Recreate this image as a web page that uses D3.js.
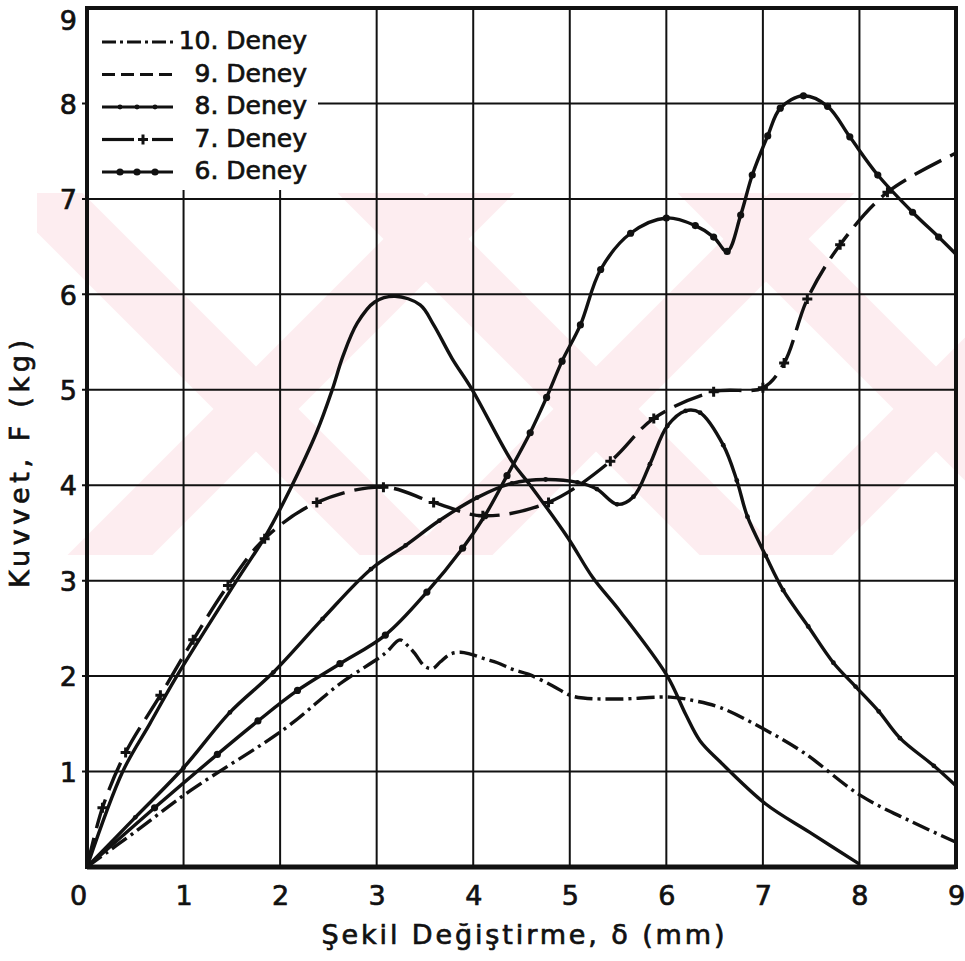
<!DOCTYPE html>
<html>
<head>
<meta charset="utf-8">
<script src="https://cdn.jsdelivr.net/npm/d3@7"></script>
<style>
body { margin: 0; background: #fff; }
text { font-family: "DejaVu Sans", sans-serif; fill: #111; stroke: #111; stroke-width: 0.7px; }
</style>
</head>
<body>
<script>
const w = 965;
const h = 961;
const plotLeft = 87, plotRight = 956, plotTop = 8, plotBottom = 867;

const xTicks = [0, 1, 2, 3, 4, 5, 6, 7, 8, 9];
const yTicks = [1, 2, 3, 4, 5, 6, 7, 8, 9];

const xTitle = "Şekil  Değiştirme, δ (mm)";
const yTitle = "Kuvvet, F (kg)";

// deformation (mm), force (kg)
const deney10 = [[0, 0], [0.5, 0.37], [1.07, 0.8], [2.05, 1.45], [2.62, 1.92], [3.09, 2.24], [3.24, 2.38],
    [3.33, 2.31], [3.4, 2.23], [3.5, 2.1], [3.58, 2.08], [3.66, 2.15], [3.76, 2.23], [3.87, 2.25],
    [3.97, 2.23], [4.12, 2.18], [4.25, 2.14], [4.41, 2.07], [4.57, 2.02], [4.82, 1.9], [5.0, 1.8],
    [5.14, 1.77], [5.52, 1.76], [6.04, 1.78], [6.3, 1.74], [6.56, 1.67], [7.0, 1.45], [7.42, 1.2],
    [8.01, 0.75], [8.53, 0.48], [9.0, 0.26]];

const deney9 = [[0, 0], [0.37, 1.0], [0.65, 1.5], [0.93, 2.0], [1.55, 3.0], [1.85, 3.47],
    [2.1, 3.95], [2.38, 4.56], [2.54, 5.0], [2.65, 5.35], [2.8, 5.7], [2.98, 5.92], [3.19, 5.98],
    [3.45, 5.89], [3.59, 5.68], [3.78, 5.33], [3.99, 5.0], [4.4, 4.25], [4.59, 4.0], [4.98, 3.45],
    [5.24, 3.03], [5.52, 2.68], [6.01, 2.0], [6.2, 1.6], [6.35, 1.32], [6.56, 1.1], [7.03, 0.66],
    [7.49, 0.36], [8.0, 0.03]];

const deney8 = [[0, 0], [0.5, 0.52], [1.0, 1.04], [1.48, 1.62], [1.93, 2.04], [2.44, 2.6], [2.94, 3.12],
    [3.3, 3.37], [3.65, 3.63], [4.04, 3.87], [4.4, 4.02], [4.75, 4.06], [5.08, 4.03], [5.28, 3.96],
    [5.49, 3.8], [5.66, 3.88], [5.83, 4.22], [6.01, 4.62], [6.2, 4.78], [6.35, 4.76], [6.59, 4.42],
    [6.73, 4.05], [6.84, 3.67], [7.03, 3.26], [7.21, 2.9], [7.47, 2.52], [7.73, 2.14], [7.96, 1.89],
    [8.2, 1.63], [8.42, 1.35], [8.77, 1.06], [9.0, 0.85]];

const deney7 = [[0, 0], [0.16, 0.62], [0.4, 1.2], [0.76, 1.8], [1.1, 2.38], [1.46, 2.95], [1.84, 3.44],
    [2.38, 3.82], [3.07, 3.98], [3.59, 3.82], [4.1, 3.68], [4.78, 3.82], [5.42, 4.25], [5.87, 4.7],
    [6.49, 4.98], [7.0, 5.02], [7.22, 5.28], [7.46, 5.95], [7.8, 6.52], [8.29, 7.07], [9.0, 7.48]];

const deney6 = [[0, 0], [0.7, 0.62], [1.35, 1.18], [1.77, 1.53], [2.18, 1.85], [2.62, 2.13], [3.09, 2.43],
    [3.52, 2.88], [3.89, 3.34], [4.12, 3.68], [4.35, 4.1], [4.59, 4.55], [4.76, 4.92], [4.92, 5.3],
    [5.11, 5.68], [5.32, 6.26], [5.63, 6.64], [6.0, 6.8], [6.3, 6.72], [6.49, 6.6], [6.63, 6.45],
    [6.77, 6.83], [6.89, 7.25], [7.05, 7.66], [7.18, 7.95], [7.42, 8.08], [7.67, 7.97], [7.9, 7.65],
    [8.19, 7.25], [8.55, 6.86], [8.82, 6.6], [9.0, 6.42]];

const series = [
    { name: "10. Deney", data: deney10, dash: "18,5,3,5", legendDash: "14,4,3,4", mark: null },
    { name: "9. Deney", data: deney9, dash: null, legendDash: "13,6", mark: null },
    { name: "8. Deney", data: deney8, dash: null, legendDash: null, mark: "smalldot" },
    { name: "7. Deney", data: deney7, dash: "30,10", legendDash: null, mark: "plus" },
    { name: "6. Deney", data: deney6, dash: null, legendDash: null, mark: "dot" }
];

const svg = d3.select("body").append("svg").attr("width", w).attr("height", h);

const xScale = d3.scaleLinear().domain([0, 9]).range([plotLeft, plotRight]);
const yScale = d3.scaleLinear().domain([0, 9]).range([plotBottom, plotTop]);

drawWatermark();
drawGrid();
drawLegendBox();
drawCurves();
drawFrame();
drawAxes();
drawLegend();
drawTitles();

function drawWatermark() {
    const y0 = 193, y1 = 555, band = y1 - y0;
    svg.append("clipPath").attr("id", "wm")
        .append("rect").attr("x", 37).attr("y", y0).attr("width", w - 37).attr("height", band);
    const g = svg.append("g").attr("clip-path", "url(#wm)");
    const bw = 85;
    [40, 380, 720].forEach(function (x0) {
        g.append("polygon")
            .attr("points", [[x0 - bw / 2, y0], [x0 + bw / 2, y0], [x0 + band + bw / 2, y1], [x0 + band - bw / 2, y1]].join(" "))
            .attr("fill", "#fdedf0");
    });
    [110, 450, 790].forEach(function (x0) {
        g.append("polygon")
            .attr("points", [[x0 - bw / 2, y1], [x0 + bw / 2, y1], [x0 + band + bw / 2, y0], [x0 + band - bw / 2, y0]].join(" "))
            .attr("fill", "#fdedf0");
    });
}

function drawGrid() {
    const g = svg.append("g").attr("stroke", "#111").attr("stroke-width", 2);
    xTicks.filter(function (d) { return d > 0 && d < 9; }).forEach(function (d) {
        g.append("line").attr("x1", xScale(d)).attr("x2", xScale(d))
            .attr("y1", plotTop).attr("y2", plotBottom);
    });
    yTicks.filter(function (d) { return d < 9; }).forEach(function (d) {
        g.append("line").attr("x1", plotLeft - 5).attr("x2", plotRight)
            .attr("y1", yScale(d)).attr("y2", yScale(d));
    });
}

function drawLegendBox() {
    svg.append("rect").attr("x", plotLeft + 2).attr("y", plotTop + 2)
        .attr("width", 318 - plotLeft - 2).attr("height", 190 - plotTop - 2)
        .attr("fill", "#fff");
}

function drawCurves() {
    const line = d3.line()
        .x(function (d) { return xScale(d[0]); })
        .y(function (d) { return yScale(d[1]); })
        .curve(d3.curveCatmullRom.alpha(0.5));

    series.forEach(function (s) {
        svg.append("path")
            .datum(s.data)
            .attr("d", line)
            .attr("fill", "none")
            .attr("stroke", "#111")
            .attr("stroke-width", 3.4)
            .attr("stroke-linejoin", "round")
            .attr("stroke-dasharray", s.dash);
        if (s.mark) {
            drawMarks(svg, s.data.slice(1, -1).map(function (d) {
                return [xScale(d[0]), yScale(d[1])];
            }), s.mark);
        }
    });
}

function drawMarks(g, pts, type) {
    pts.forEach(function (p) {
        if (type === "plus") {
            g.append("path")
                .attr("d", "M" + (p[0] - 5) + "," + p[1] + "h10M" + p[0] + "," + (p[1] - 5) + "v10")
                .attr("stroke", "#111").attr("stroke-width", 3);
        } else {
            g.append("circle").attr("cx", p[0]).attr("cy", p[1])
                .attr("r", type === "dot" ? 3.6 : 2.4).attr("fill", "#111");
        }
    });
}

function drawFrame() {
    svg.append("rect")
        .attr("x", plotLeft).attr("y", plotTop)
        .attr("width", plotRight - plotLeft).attr("height", plotBottom - plotTop)
        .attr("fill", "none").attr("stroke", "#111").attr("stroke-width", 4);
    svg.append("line").attr("x1", plotLeft).attr("x2", plotRight)
        .attr("y1", plotBottom).attr("y2", plotBottom)
        .attr("stroke", "#111").attr("stroke-width", 5);
}

function drawAxes() {
    const xAxis = d3.axisBottom(xScale).tickValues(xTicks).tickSize(0).tickPadding(0);
    const gx = svg.append("g").attr("transform", "translate(0," + plotBottom + ")").call(xAxis);
    gx.select(".domain").remove();
    gx.selectAll("text")
        .attr("font-size", 27).attr("font-family", "DejaVu Sans")
        .attr("y", 38).attr("dy", 0)
        .attr("dx", function (d) { return d === 0 ? -9 : 0; });

    const yAxis = d3.axisLeft(yScale).tickValues(yTicks).tickSize(0).tickPadding(10);
    const gy = svg.append("g").attr("transform", "translate(" + plotLeft + ",0)").call(yAxis);
    gy.select(".domain").remove();
    gy.selectAll("text")
        .attr("font-size", 27).attr("font-family", "DejaVu Sans")
        .attr("x", -10).attr("dy", function (d) { return d === 9 ? "0.78em" : "0.36em"; });
}

function drawLegend() {
    const g = svg.append("g");
    series.forEach(function (s, i) {
        const y = 42 + i * 32.5;
        if (s.mark === "plus") {
            g.append("line").attr("x1", 102).attr("x2", 134).attr("y1", y).attr("y2", y)
                .attr("stroke", "#111").attr("stroke-width", 3.2);
            g.append("line").attr("x1", 152).attr("x2", 173).attr("y1", y).attr("y2", y)
                .attr("stroke", "#111").attr("stroke-width", 3.2);
            drawMarks(g, [[143, y]], "plus");
        } else {
            g.append("line").attr("x1", 102).attr("x2", 173).attr("y1", y).attr("y2", y)
                .attr("stroke", "#111").attr("stroke-width", 3.2)
                .attr("stroke-dasharray", s.legendDash);
            if (s.mark) {
                drawMarks(g, [[120, y], [137, y], [155, y]], s.mark);
            }
        }
        g.append("text").attr("x", 307).attr("y", y + 7)
            .attr("text-anchor", "end").attr("font-size", 25)
            .text(s.name);
    });
}

function drawTitles() {
    svg.append("text")
        .attr("x", 523).attr("y", 944)
        .attr("text-anchor", "middle").attr("font-size", 27)
        .attr("textLength", 403).attr("lengthAdjust", "spacing")
        .text(xTitle);
    svg.append("text")
        .attr("transform", "translate(29,464) rotate(-90)")
        .attr("text-anchor", "middle").attr("font-size", 27)
        .attr("textLength", 248).attr("lengthAdjust", "spacing")
        .text(yTitle);
}
</script>
</body>
</html>
